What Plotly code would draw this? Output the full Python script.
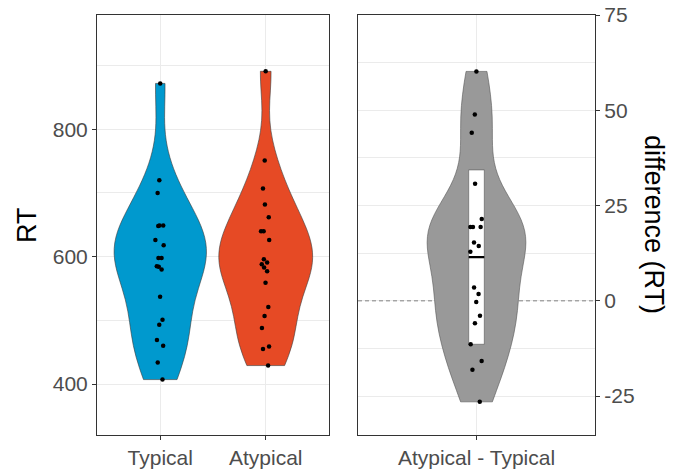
import numpy as np
import plotly.graph_objects as go

# ---- data ----
categories = ["Typical", "Atypical"]
diff_label = "Atypical - Typical"

typical_rt = [872, 720, 700, 649, 649, 648, 626, 618, 598, 598,
              585, 584, 580, 537, 501, 493, 469, 460, 434, 407]
atypical_rt = [891, 751, 707, 682, 662, 640, 640, 626, 596, 591,
               588, 583, 577, 559, 521, 507, 488, 459, 455, 429]
difference_rt = [60.2, 48.9, 44.1, 30.7, 21.5, 19.4, 19.4, 19.4, 15.3, 14.4,
                 12.9, 3.5, 1.8, -0.3, -3.9, -5.9, -11.4, -15.8, -18.1, -26.5]

left_ticks = [400, 600, 800]
right_ticks = [-25, 0, 25, 50, 75]
right_ticktext = ["-25", "0", "25", "50", "75"]
reference_value = 0

colors = {"Typical": "#0099CE", "Atypical": "#E64A25", "diff": "#999999"}


def nrd0(v):
    v = np.asarray(v, float)
    sd = v.std(ddof=1)
    iqr = np.subtract(*np.percentile(v, [75, 25]))
    return 0.9 * min(sd, iqr / 1.34) * len(v) ** (-0.2)


W, H = 681, 474
xd1 = [97 / W, 329 / W]
xd2 = [358 / W, 595 / W]
yd = [1 - 435 / H, 1 - 15 / H]
X2_RANGE = [-0.6, 0.6]
Y2_RANGE = [-35.2, 75]
FONT = "Liberation Sans, Arial, sans-serif"

fig = go.Figure()

# left panel violins
for i, (name, vals, wd) in enumerate([("Typical", typical_rt, 0.875),
                                      ("Atypical", atypical_rt, 0.89)]):
    fig.add_trace(go.Violin(
        x=[i] * len(vals), y=vals, xaxis="x", yaxis="y",
        fillcolor=colors[name], line=dict(color="#3a3a3a", width=0.6),
        opacity=1, spanmode="hard", bandwidth=nrd0(vals),
        width=wd, scalemode="width", points="all", pointpos=0, jitter=0.12,
        marker=dict(color="black", size=4.5, line=dict(width=0)),
        box_visible=False, meanline_visible=False, showlegend=False,
        hoverinfo="skip", name=name))

# right panel: dashed reference line in base subplot (below the violin)
fig.add_trace(go.Scatter(
    x=X2_RANGE, y=[reference_value, reference_value], xaxis="x2", yaxis="y2",
    mode="lines", line=dict(color="#666666", width=0.8, dash="4px,3px"),
    showlegend=False, hoverinfo="skip"))

# right panel: violin fill (overlay subplot, drawn above the dashed line)
fig.add_trace(go.Violin(
    x=[0] * len(difference_rt), y=difference_rt, xaxis="x2", yaxis="y3",
    fillcolor=colors["diff"], line=dict(color="#555555", width=0.6),
    opacity=1, spanmode="hard", bandwidth=nrd0(difference_rt),
    width=0.50, scalemode="width", points=False,
    box_visible=False, meanline_visible=False, showlegend=False,
    hoverinfo="skip"))

m = float(np.mean(difference_rt))
sd = float(np.std(difference_rt, ddof=1))

# white mean +/- sd box
fig.add_trace(go.Box(
    x=[0], q1=[m - sd], median=[m], q3=[m + sd],
    lowerfence=[m - sd], upperfence=[m + sd],
    xaxis="x2", yaxis="y3", width=0.079, whiskerwidth=0,
    fillcolor="white", line=dict(color="#555555", width=0.6),
    showlegend=False, hoverinfo="skip", boxpoints=False))
# mean line
fig.add_trace(go.Box(
    x=[0], q1=[m], median=[m], q3=[m], lowerfence=[m], upperfence=[m],
    xaxis="x2", yaxis="y3", width=0.079, whiskerwidth=0,
    fillcolor="rgba(0,0,0,0)", line=dict(color="black", width=2.2),
    showlegend=False, hoverinfo="skip", boxpoints=False))
# points on top (invisible box, jittered points)
fig.add_trace(go.Box(
    x=[0] * len(difference_rt), y=difference_rt, xaxis="x2", yaxis="y3",
    width=0.5, boxpoints="all", pointpos=0, jitter=0.17,
    fillcolor="rgba(0,0,0,0)", line=dict(color="rgba(0,0,0,0)", width=0),
    whiskerwidth=0,
    marker=dict(color="black", size=4.5, line=dict(width=0)),
    showlegend=False, hoverinfo="skip"))

tickfont = dict(family=FONT, size=21, color="#4D4D4D")
axcommon = dict(showline=True, linecolor="#333333", linewidth=1.1, mirror=True,
                ticks="outside", ticklen=4, tickcolor="#333333", tickwidth=1.1,
                showgrid=True, gridcolor="#EBEBEB", gridwidth=1.1,
                zeroline=False, tickfont=tickfont, automargin=False, fixedrange=True)

fig.update_layout(
    width=W, height=H, margin=dict(l=0, r=0, t=0, b=0),
    paper_bgcolor="white", plot_bgcolor="white",
    violinmode="overlay", boxmode="overlay",
    xaxis=dict(domain=xd1, range=[-0.6, 1.6], tickmode="array",
               tickvals=[0, 1], ticktext=categories, anchor="y", **axcommon),
    yaxis=dict(domain=yd, range=[320, 979.4], tickmode="array",
               tickvals=left_ticks, anchor="x",
               minor=dict(tickmode="array", tickvals=[500, 700, 900], showgrid=True,
                          gridcolor="#EBEBEB", gridwidth=0.6, ticks=""),
               **axcommon),
    xaxis2=dict(domain=xd2, range=X2_RANGE, tickmode="array",
                tickvals=[0], ticktext=[diff_label], anchor="y2", **axcommon),
    yaxis2=dict(domain=yd, range=Y2_RANGE, tickmode="array",
                tickvals=right_ticks, ticktext=right_ticktext, side="right",
                anchor="x2",
                minor=dict(tickmode="array", tickvals=[-12.5, 12.5, 37.5, 62.5],
                           showgrid=True, gridcolor="#EBEBEB", gridwidth=0.6, ticks=""),
                **axcommon),
    yaxis3=dict(overlaying="y2", range=Y2_RANGE, anchor="x2", visible=False,
                showgrid=False, zeroline=False, fixedrange=True),
    annotations=[
        dict(text="RT", xref="paper", yref="paper", x=27 / W, y=1 - 225 / H,
             xanchor="center", yanchor="middle",
             showarrow=False, textangle=-90,
             font=dict(family=FONT, size=27, color="black")),
        dict(text="difference (RT)", xref="paper", yref="paper", x=654 / W, y=1 - 224 / H,
             xanchor="center", yanchor="middle",
             showarrow=False, textangle=90,
             font=dict(family=FONT, size=27, color="black")),
    ],
)

fig.write_html("out.html", config={"displayModeBar": False},
               post_script="document.body.style.margin='0px';")
